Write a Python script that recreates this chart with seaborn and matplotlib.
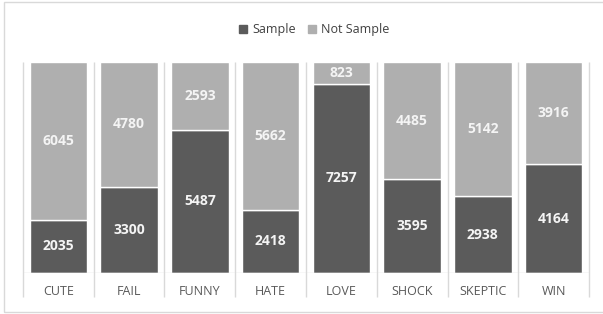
import matplotlib
matplotlib.use("Agg")
import matplotlib.pyplot as plt
import seaborn as sns
import pandas as pd
from matplotlib.patches import Patch, Rectangle

# chart data
categories = ["CUTE", "FAIL", "FUNNY", "HATE", "LOVE", "SHOCK", "SKEPTIC", "WIN"]
sample = [2035, 3300, 5487, 2418, 7257, 3595, 2938, 4164]
not_sample = [6045, 4780, 2593, 5662, 823, 4485, 5142, 3916]

DARK = "#5b5b5b"
LIGHT = "#afafaf"
GRID = "#d9d9d9"

sns.set_theme(style="white")
plt.rcParams["font.family"] = ["Open Sans", "DejaVu Sans"]

df = pd.DataFrame({"category": categories, "sample": sample, "not_sample": not_sample})

fig = plt.figure(figsize=(6.03, 3.14), dpi=100)
ax = fig.add_axes([0.0381, 0.1306, 0.9387, 0.6719])

sns.barplot(data=df, x="category", y="sample", color=DARK, width=0.81,
            saturation=1, ax=ax, zorder=3)
sns.barplot(data=df, x="category", y="not_sample", bottom=df["sample"], color=LIGHT,
            width=0.81, saturation=1, ax=ax, zorder=3)

for cont, vals in zip(ax.containers, [sample, not_sample]):
    ax.bar_label(cont, labels=[str(v) for v in vals], label_type="center",
                 color="#f4f4f4", fontsize=10, fontweight="bold")

total = max(s + n for s, n in zip(sample, not_sample))
ax.set_ylim(0, total)
ax.set_xlim(-0.5, len(categories) - 0.5)

# category dividers
ax.vlines([i - 0.5 for i in range(len(categories) + 1)], -0.115, 1.0,
          transform=ax.get_xaxis_transform(), color=GRID, lw=1, clip_on=False, zorder=1)
ax.axhline(0, color=GRID, lw=1, zorder=4)

for s in ax.spines.values():
    s.set_visible(False)
ax.set_yticks([])
ax.set_xlabel("")
ax.set_ylabel("")
ax.tick_params(axis="x", length=0, pad=9, labelsize=9, labelcolor="#595959")

handles = [Patch(color=DARK, label="Sample"), Patch(color=LIGHT, label="Not Sample")]
fig.legend(handles=handles, loc="center", bbox_to_anchor=(0.521, 0.905), ncol=2,
           frameon=False, fontsize=9, handlelength=0.65, handleheight=0.65,
           handletextpad=0.4, columnspacing=1.0, labelcolor="#404040")

# outer chart frame
fig.patches.append(Rectangle((4 / 603, 2 / 314), 1.0, 310 / 314, transform=fig.transFigure,
                             fill=False, edgecolor=GRID, lw=1))

fig.savefig("out.png", dpi=100)
